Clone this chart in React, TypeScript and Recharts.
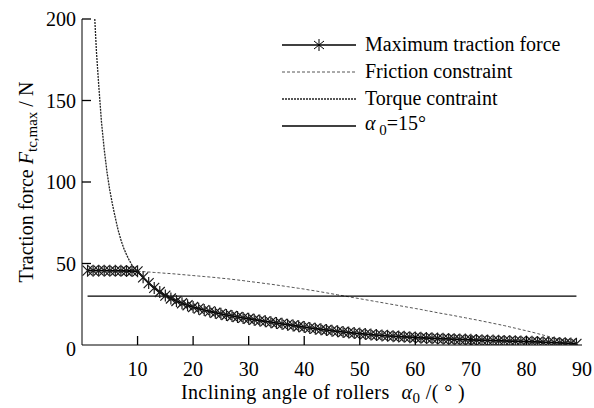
import React from "react";
import { LineChart, Line, XAxis, YAxis, Legend } from "recharts";

// inclining angle of rollers, degrees
const alpha = [
  1, 2, 3, 4, 5, 6, 7, 8, 9, 10, 11, 12, 13, 14, 15, 16, 17, 18, 19, 20, 21, 22, 23, 24, 25, 26, 27, 28, 29, 30,
  31, 32, 33, 34, 35, 36, 37, 38, 39, 40, 41, 42, 43, 44, 45, 46, 47, 48, 49, 50, 51, 52, 53, 54, 55, 56, 57, 58,
  59, 60, 61, 62, 63, 64, 65, 66, 67, 68, 69, 70, 71, 72, 73, 74, 75, 76, 77, 78, 79, 80, 81, 82, 83, 84, 85, 86,
  87, 88, 89,
];

const maxTraction = [
  45.6, 45.6, 45.6, 45.6, 45.5, 45.5, 45.5, 45.4, 45.4, 45.2,
  41.5, 38.0, 35.0, 32.5, 30.3, 28.5, 27.0, 25.6, 24.4, 23.3,
  22.3, 21.4, 20.6, 19.8, 19.1, 18.4, 17.8, 17.2, 16.6, 16.1,
  15.5, 15.0, 14.5, 14.0, 13.5, 13.0, 12.5, 12.0, 11.5, 11.0,
  10.5, 10.0, 9.6, 9.2, 8.8, 8.4, 8.0, 7.6, 7.3, 7.0,
  6.7, 6.4, 6.1, 5.9, 5.6, 5.4, 5.2, 5.0, 4.8, 4.6,
  4.4, 4.3, 4.1, 4.0, 3.8, 3.7, 3.5, 3.4, 3.3, 3.2,
  3.0, 2.9, 2.8, 2.7, 2.6, 2.5, 2.4, 2.3, 2.2, 2.1,
  2.0, 1.9, 1.7, 1.6, 1.5, 1.3, 1.1, 0.9, 0.7,
];

const friction = [
  46.0, 45.9, 45.9, 45.8, 45.8, 45.7, 45.6, 45.5, 45.4, 45.2,
  45.0, 44.8, 44.5, 44.3, 44.0, 43.8, 43.5, 43.2, 42.9, 42.6,
  42.3, 42.0, 41.7, 41.4, 41.0, 40.7, 40.3, 39.9, 39.5, 39.0,
  38.6, 38.2, 37.7, 37.3, 36.8, 36.3, 35.8, 35.3, 34.8, 34.3,
  33.7, 33.2, 32.6, 32.0, 31.4, 30.8, 30.2, 29.6, 29.0, 28.4,
  27.8, 27.2, 26.6, 26.0, 25.4, 24.8, 24.2, 23.6, 23.0, 22.4,
  21.8, 21.1, 20.5, 19.8, 19.2, 18.6, 18.0, 17.3, 16.7, 16.0,
  15.4, 14.7, 14.0, 13.3, 12.6, 11.9, 11.1, 10.3, 9.5, 8.7,
  7.9, 7.0, 6.1, 5.2, 4.3, 3.4, 2.5, 1.6, 0.8,
];

// steep part of the torque constraint; past 10 deg it follows the max traction curve
const torqueAlpha = [2.3, 2.6, 3, 3.5, 4, 4.5, 5, 5.5, 6, 6.5, 7, 7.5, 8, 8.5, 9, 9.5, 10];
const torqueSteep = [200, 180, 160, 137, 120, 106, 95, 86, 78, 70.5, 64.5, 59.5, 55.5, 52, 49, 47, 45.3];

// alpha0 = 15 deg line
const refAlpha = [1, 89];
const refValue = [30, 30];

const xTicks = [10, 20, 30, 40, 50, 60, 70, 80, 90];
const yTicks = [0, 50, 100, 150, 200];

const legendItems = ["Maximum traction force", "Friction constraint", "Torque contraint", "alpha"];

const data = alpha.map((a, i) => ({ alpha: a, maxTraction: maxTraction[i], friction: friction[i] }));
const torqueData = [
  ...torqueAlpha.map((a, i) => ({ alpha: a, torque: torqueSteep[i] })),
  ...alpha.filter((a) => a > 10).map((a) => ({ alpha: a, torque: maxTraction[a - 1] })),
];
const refData = refAlpha.map((a, i) => ({ alpha: a, ref: refValue[i] }));

const FONT = "Liberation Serif, serif";

const Asterisk = (props: any) => {
  const { cx, cy, index } = props;
  if (cx == null || cy == null) return <g key={`s${index}`} />;
  return (
    <path
      key={`s${index}`}
      d={`M${cx},${cy - 6}L${cx},${cy + 6}M${cx - 5},${cy - 5}L${cx + 5},${cy + 5}M${cx - 5},${cy + 5}L${cx + 5},${cy - 5}`}
      stroke="#1a1a1a"
      strokeWidth={1.2}
      fill="none"
    />
  );
};

// ticks point inward (drawn here), labels sit outside
const renderXTick = (props: any) => {
  const { x, y, payload, index } = props;
  const axisY = y - 17;
  return (
    <g key={`xt${index}`}>
      {payload.value < 90 && (
        <line x1={x} y1={axisY} x2={x} y2={axisY - 9} stroke="#000" strokeWidth={1.3} />
      )}
      <text x={x} y={y + 14} textAnchor="middle" style={{ fontFamily: FONT, fontSize: 20 }} fill="#000">
        {payload.value}
      </text>
    </g>
  );
};

const renderYTick = (props: any) => {
  const { x, y, payload, index } = props;
  const axisX = x + 6;
  return (
    <g key={`yt${index}`}>
      {payload.value > 0 && (
        <line x1={axisX} y1={y} x2={axisX + 9} y2={y} stroke="#000" strokeWidth={1.3} />
      )}
      <text
        x={x}
        y={payload.value === 0 ? y + 11 : y + 7}
        textAnchor="end"
        style={{ fontFamily: FONT, fontSize: 20 }}
        fill="#000"
      >
        {payload.value}
      </text>
    </g>
  );
};

const XTitle = () => (
  <text x={323} y={399} textAnchor="middle" style={{ fontFamily: FONT, fontSize: 20, letterSpacing: 0.4 }} fill="#000">
    <tspan>Inclining angle of rollers</tspan>
    <tspan dx={12} fontStyle="italic">α</tspan>
    <tspan dy={4} fontSize={15}>0</tspan>
    <tspan dy={-4}> /( ° )</tspan>
  </text>
);

const YTitle = () => (
  <text
    x={33}
    y={182}
    transform="rotate(-90 33 182)"
    textAnchor="middle"
    style={{ fontFamily: FONT, fontSize: 20 }}
    fill="#000"
  >
    Traction force <tspan fontStyle="italic">F</tspan>
    <tspan dy={4} fontSize={15}>tc,max</tspan>
    <tspan dy={-4}> / N</tspan>
  </text>
);

const Sample = ({ kind }: { kind: number }) => (
  <svg width={74} height={14} style={{ display: "block" }}>
    {kind === 0 && (
      <>
        <line x1={0} y1={7} x2={74} y2={7} stroke="#000" strokeWidth={1.5} />
        <path d="M37,1L37,13M32,3L42,11M32,11L42,3" stroke="#000" strokeWidth={1} />
      </>
    )}
    {kind === 1 && <line x1={0} y1={7} x2={74} y2={7} stroke="#555" strokeWidth={1} strokeDasharray="3 2" />}
    {kind === 2 && <line x1={0} y1={7} x2={74} y2={7} stroke="#222" strokeWidth={1.3} strokeDasharray="2 1" />}
    {kind === 3 && <line x1={0} y1={7} x2={74} y2={7} stroke="#000" strokeWidth={1.3} />}
  </svg>
);

const LegendBox = () => (
  <div style={{ fontFamily: FONT, fontSize: 20, color: "#000" }}>
    {legendItems.map((name, i) => (
      <div key={name} style={{ display: "flex", alignItems: "center", height: 27 }}>
        <Sample kind={i} />
        <span style={{ marginLeft: 9, whiteSpace: "nowrap" }}>
          {i === 3 ? (
            <>
              <i>α</i>
              <sub style={{ fontSize: 15 }}> 0</sub>=15°
            </>
          ) : (
            name
          )}
        </span>
      </div>
    ))}
  </div>
);

export default function App() {
  return (
    <div style={{ position: "absolute", left: 0, top: 0, background: "#fff" }}>
      <LineChart width={594} height={408} data={data} margin={{ top: 19, right: 12, bottom: 0, left: 0 }}>
        <XAxis
          dataKey="alpha"
          type="number"
          domain={[0, 90]}
          ticks={xTicks}
          allowDataOverflow
          height={63}
          stroke="#000"
          tickLine={false}
          tickSize={0}
          tickMargin={17}
          tick={renderXTick}
          label={{ content: () => <XTitle /> }}
        />
        <YAxis
          type="number"
          domain={[0, 200]}
          ticks={yTicks}
          allowDataOverflow
          width={82}
          stroke="#000"
          tickLine={false}
          tickSize={0}
          tickMargin={6}
          tick={renderYTick}
          label={{ content: () => <YTitle /> }}
        />
        <Legend
          layout="vertical"
          align="center"
          verticalAlign="middle"
          wrapperStyle={{ top: 31, left: 282, width: 300, height: 110 }}
          content={() => <LegendBox />}
        />
        <Line
          dataKey="friction"
          name="Friction constraint"
          stroke="#555"
          strokeWidth={1}
          strokeDasharray="3 2"
          dot={false}
          isAnimationActive={false}
        />
        <Line
          data={torqueData}
          dataKey="torque"
          name="Torque contraint"
          stroke="#222"
          strokeWidth={1.3}
          strokeDasharray="2 1"
          dot={false}
          isAnimationActive={false}
        />
        <Line
          data={refData}
          dataKey="ref"
          name="alpha0=15"
          stroke="#000"
          strokeWidth={1.3}
          dot={false}
          isAnimationActive={false}
        />
        <Line
          dataKey="maxTraction"
          name="Maximum traction force"
          stroke="#000"
          strokeWidth={1.8}
          dot={Asterisk}
          isAnimationActive={false}
        />
      </LineChart>
    </div>
  );
}
